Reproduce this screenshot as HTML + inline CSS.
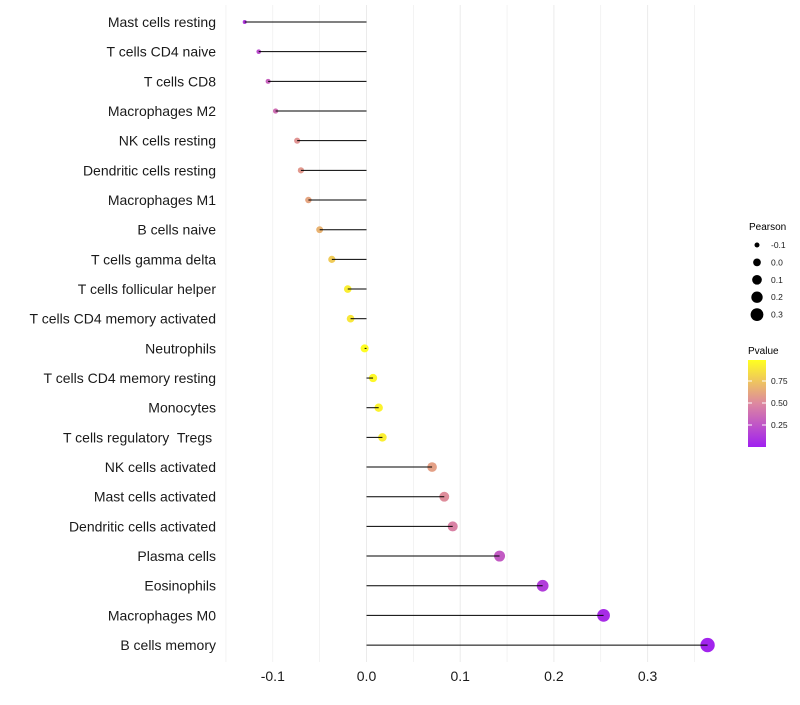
<!DOCTYPE html>
<html><head><meta charset="utf-8"><style>
body{margin:0;background:#fff;font-family:"Liberation Sans",sans-serif}
svg text{font-family:"Liberation Sans",sans-serif}
</style></head><body>
<svg id="chart" width="800" height="700" xmlns="http://www.w3.org/2000/svg">
<defs><linearGradient id="pg" x1="0" y1="1" x2="0" y2="0">
<stop offset="0" stop-color="#A020F0"/><stop offset="0.5" stop-color="#DD88A0"/><stop offset="1" stop-color="#FFFF20"/></linearGradient></defs>
<g id="grid"></g>
<g id="marks"></g>
<g id="labels"></g>
<g id="xticks"></g>
<g id="legS">
<text x="749" y="230" font-size="10" fill="#000">Pearson</text>
</g>
<g>
<text x="748" y="354" font-size="10" fill="#000">Pvalue</text>
<rect x="748" y="360" width="18" height="87" fill="url(#pg)"/>
<g id="cbt"></g>
</g>
</svg>
<script>
const cats=["Mast cells resting","T cells CD4 naive","T cells CD8","Macrophages M2","NK cells resting","Dendritic cells resting","Macrophages M1","B cells naive","T cells gamma delta","T cells follicular helper","T cells CD4 memory activated","Neutrophils","T cells CD4 memory resting","Monocytes","T cells regulatory  Tregs ","NK cells activated","Mast cells activated","Dendritic cells activated","Plasma cells","Eosinophils","Macrophages M0","B cells memory"];
const pearson=[-0.130,-0.115,-0.105,-0.097,-0.074,-0.070,-0.062,-0.050,-0.037,-0.020,-0.017,-0.002,0.007,0.013,0.017,0.070,0.083,0.092,0.142,0.188,0.253,0.364];
const pvals=[0.12,0.22,0.32,0.38,0.55,0.57,0.62,0.68,0.78,0.93,0.9,0.99,0.97,0.95,0.93,0.6,0.52,0.47,0.28,0.14,0.06,0.02];
const xTicks=[-0.1,0.0,0.1,0.2,0.3];
const xTickLabels=["-0.1","0.0","0.1","0.2","0.3"];
const sizeLegend=[-0.1,0.0,0.1,0.2,0.3];
const sizeLegendLabels=["-0.1","0.0","0.1","0.2","0.3"];
const cbTicks=[0.25,0.5,0.75];
const cbTickLabels=["0.25","0.50","0.75"];
const NS="http://www.w3.org/2000/svg";
const x=v=>366.5+v*937;
const y=i=>22+i*29.67;
const r=v=>{const a=3+(v+0.14)/0.51*(52-3);return Math.sqrt(Math.max(a,2));};
function col(p){const s=[[0,[160,32,240]],[0.5,[221,136,160]],[1,[255,255,32]]];let k=p<0.5?0:1;const t=(p-s[k][0])/0.5;const c=s[k][1].map((v,j)=>Math.round(v+(s[k+1][1][j]-v)*t));return `rgb(${c})`;}
function mk(t,a,p){const e=document.createElementNS(NS,t);for(const k in a)e.setAttribute(k,a[k]);p.appendChild(e);return e;}
const grid=document.getElementById('grid'),marks=document.getElementById('marks'),labels=document.getElementById('labels'),xt=document.getElementById('xticks');
for(let v=-0.15;v<=0.36;v+=0.05){const g=mk('line',{x1:x(v),x2:x(v),y1:5,y2:662,stroke:'#ebebeb','stroke-width':Math.abs((v*20)%2)>0.5?0.6:1},grid);}
cats.forEach((c,i)=>{
const d=mk('circle',{cx:x(pearson[i]),cy:y(i),r:r(pearson[i]),fill:col(pvals[i])},marks);


const l=mk('line',{x1:x(0),x2:x(pearson[i]),y1:y(i),y2:y(i),stroke:'#000','stroke-width':1},marks);


const t=mk('text',{x:216,y:y(i)+5,'text-anchor':'end','font-size':14,fill:'#1a1a1a'},labels);t.textContent=c;
t.setAttribute('xml:space','preserve');t.style.whiteSpace='pre';


});
xTicks.forEach((v,i)=>{const t=mk('text',{x:x(v),y:681,'text-anchor':'middle','font-size':14,fill:'#1a1a1a'},xt);t.textContent=xTickLabels[i];

});
const legS=document.getElementById('legS');
sizeLegend.forEach((v,i)=>{const cy=245+i*17.4;const c=mk('circle',{cx:757,cy:cy,r:r(v)*0.95,fill:'#000'},legS);


const t=mk('text',{x:771,y:cy+3,'font-size':8.5,fill:'#1a1a1a'},legS);t.textContent=sizeLegendLabels[i];

});
const cbt=document.getElementById('cbt');
cbTicks.forEach((v,i)=>{const yy=447-v*88;mk('line',{x1:748,x2:752,y1:yy,y2:yy,stroke:'#fff'},cbt);mk('line',{x1:762,x2:766,y1:yy,y2:yy,stroke:'#fff'},cbt);
const t=mk('text',{x:771,y:yy+3,'font-size':8.5,fill:'#1a1a1a'},cbt);t.textContent=cbTickLabels[i];

});
</script>
</body></html>
